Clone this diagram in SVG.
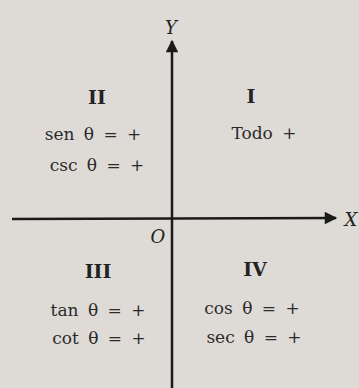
<svg xmlns="http://www.w3.org/2000/svg" width="359" height="388" viewBox="0 0 359 388">
<style>
.t{font-family:"DejaVu Serif","Liberation Serif",serif;font-size:17px;fill:#2a2a2a;word-spacing:4px}
.n{font-family:"DejaVu Serif","Liberation Serif",serif;font-size:19px;font-weight:bold;fill:#222}
.a{font-family:"DejaVu Serif","Liberation Serif",serif;font-size:18px;font-style:italic;fill:#222}
.ax{stroke:#1a1a1a;stroke-width:2.5;fill:none}
</style>
<defs>
<marker id="ar" viewBox="0 0 10 10" refX="9" refY="5" markerWidth="6" markerHeight="5" orient="auto" markerUnits="strokeWidth">
<path d="M0,0 L10,5 L0,10 z" fill="#1a1a1a"/>
</marker>
</defs>
<rect width="359" height="388" fill="#dedbd6"/>
<g id="connectors">
<line class="ax" x1="172" y1="388" x2="172" y2="41" marker-end="url(#ar)"/>
<line class="ax" x1="12" y1="219" x2="336" y2="218" marker-end="url(#ar)"/>
</g>
<g id="axis-labels">
<text class="a" x="171" y="34" text-anchor="middle">Y</text>
<text class="a" x="351" y="226" text-anchor="middle">X</text>
<text class="a" x="158" y="243" text-anchor="middle">O</text>
</g>
<g id="q2">
<text class="n" x="97" y="104" text-anchor="middle">II</text>
<text class="t" x="93" y="140" text-anchor="middle">sen θ = +</text>
<text class="t" x="97" y="171" text-anchor="middle">csc θ = +</text>
</g>
<g id="q1">
<text class="n" x="251" y="103" text-anchor="middle">I</text>
<text class="t" x="264" y="139" text-anchor="middle">Todo +</text>
</g>
<g id="q3">
<text class="n" x="98" y="278" text-anchor="middle">III</text>
<text class="t" x="98" y="316" text-anchor="middle">tan θ = +</text>
<text class="t" x="99" y="344" text-anchor="middle">cot θ = +</text>
</g>
<g id="q4">
<text class="n" x="255" y="276" text-anchor="middle">IV</text>
<text class="t" x="252" y="314" text-anchor="middle">cos θ = +</text>
<text class="t" x="254" y="343" text-anchor="middle">sec θ = +</text>
</g>
</svg>
